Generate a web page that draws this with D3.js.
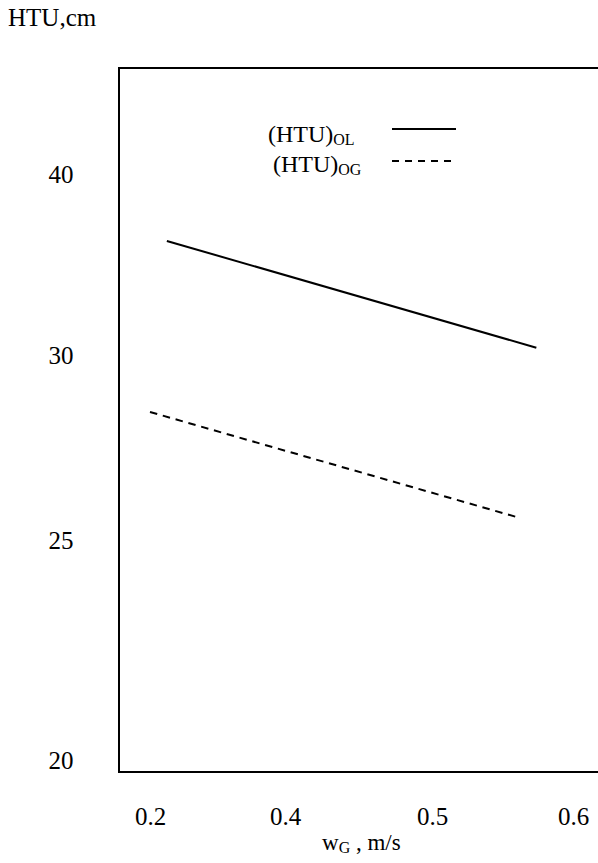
<!DOCTYPE html>
<html>
<head>
<meta charset="utf-8">
<script src="https://cdn.jsdelivr.net/npm/d3@7"></script>
<style>
  html, body { margin: 0; padding: 0; background: #fff; }
  svg { display: block; }
  svg text { font-family: "Liberation Serif", "DejaVu Serif", serif; fill: #000; }
</style>
</head>
<body>
<div id="chart"></div>
<script>
// ---- data ----
const xTickValues = [0.2, 0.4, 0.5, 0.6];
const xTickLabels = ["0.2", "0.4", "0.5", "0.6"];
const yTickValues = [20, 25, 30, 40];
const yTickLabels = ["20", "25", "30", "40"];

const seriesNames = ["OL", "OG"];
const wG_OL = [0.225, 0.574];
const htu_OL = [36.3, 30.4];
const wG_OG = [0.2, 0.562];
const htu_OG = [28.46, 25.6];

// ---- layout ----
const W = 598, H = 863;
const frame = { left: 119, top: 68, bottom: 772 };
const SERIF = "'Liberation Serif', 'DejaVu Serif', serif";

const svg = d3.select("#chart").append("svg").attr("width", W).attr("height", H)
  .attr("font-family", SERIF);

// the axis is non-uniformly labelled: piecewise linear scales
const x = d3.scaleLinear().domain(xTickValues).range([150, 285, 432, 573]);
const y = d3.scaleLinear().domain(yTickValues).range([760, 540, 355, 174]);

// frame (no right border visible)
svg.append("path")
  .attr("d", `M${W + 5},${frame.top} H${frame.left} V${frame.bottom} H${W + 5}`)
  .attr("fill", "none").attr("stroke", "#000").attr("stroke-width", 2);

// x axis labels
const xAxis = d3.axisBottom(x).tickValues(xTickValues)
  .tickFormat((d, i) => xTickLabels[i]).tickSize(0).tickPadding(0);
const gx = svg.append("g").attr("transform", `translate(0,${frame.bottom})`).call(xAxis);
gx.attr("font-family", SERIF);
gx.select(".domain").remove();
gx.selectAll("text").attr("dy", null).attr("y", 53)
  .style("font-family", SERIF).style("font-size", "25px").attr("fill", "#000");

// y axis labels
const yAxis = d3.axisLeft(y).tickValues(yTickValues)
  .tickFormat((d, i) => yTickLabels[i]).tickSize(0).tickPadding(0);
const gy = svg.append("g").attr("transform", `translate(61,0)`).call(yAxis);
gy.attr("font-family", SERIF);
gy.select(".domain").remove();
gy.selectAll("text").attr("x", 0).attr("text-anchor", "middle").attr("dy", "0.33em")
  .style("font-family", SERIF).style("font-size", "25px").attr("fill", "#000");

// axis titles
svg.append("text").attr("x", 8).attr("y", 26).style("font-family", SERIF)
  .style("font-size", "25px").text("HTU,cm");

const xt = svg.append("text").attr("x", 322).attr("y", 850)
  .style("font-family", SERIF).style("font-size", "23px");
xt.append("tspan").text("w");
xt.append("tspan").attr("dy", 3).style("font-size", "16px").text("G");
xt.append("tspan").attr("dy", -3).text(" , m/s");

// lines
const line = d3.line().x(d => x(d[0])).y(d => y(d[1]));
svg.append("path").datum(d3.zip(wG_OL, htu_OL)).attr("d", line)
  .attr("fill", "none").attr("stroke", "#000").attr("stroke-width", 2);
svg.append("path").datum(d3.zip(wG_OG, htu_OG)).attr("d", line)
  .attr("fill", "none").attr("stroke", "#000").attr("stroke-width", 2)
  .attr("stroke-dasharray", "7.5,5.8");

// legend
const legend = [
  { name: seriesNames[0], tx: 268, ty: 142, ly: 129, dash: null },
  { name: seriesNames[1], tx: 273, ty: 172, ly: 161, dash: "7,6" }
];
legend.forEach(l => {
  const t = svg.append("text").attr("x", l.tx).attr("y", l.ty)
    .style("font-family", SERIF).style("font-size", "24px");
  t.append("tspan").text("(HTU)");
  t.append("tspan").attr("dy", 3).style("font-size", "16px").text(l.name);
  svg.append("line").attr("x1", 392).attr("x2", 456).attr("y1", l.ly).attr("y2", l.ly)
    .attr("stroke", "#000").attr("stroke-width", 2)
    .attr("stroke-dasharray", l.dash);
});
</script>
</body>
</html>
